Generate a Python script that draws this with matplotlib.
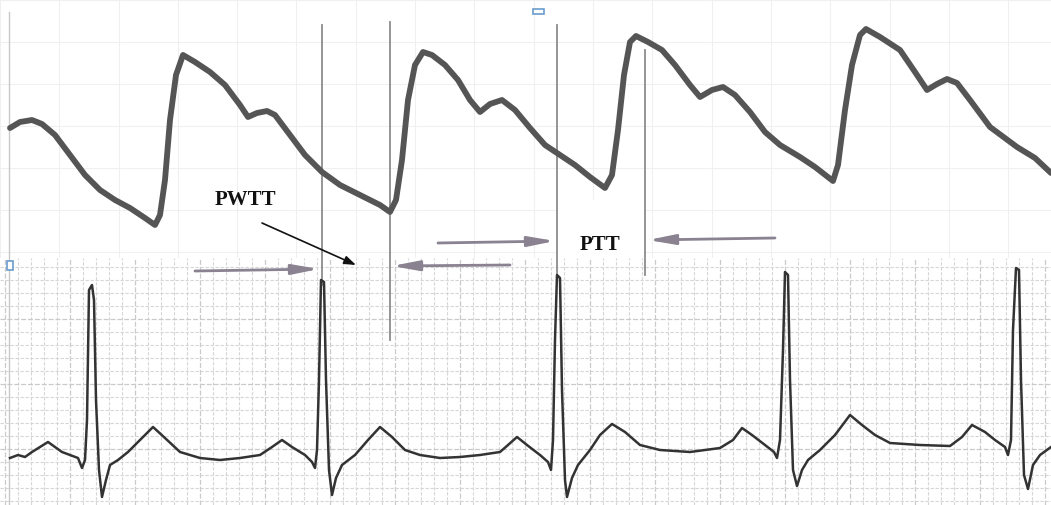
import matplotlib
matplotlib.use("Agg")
import matplotlib.pyplot as plt
from matplotlib.ticker import MultipleLocator
from matplotlib.patches import Rectangle

W, H = 1051, 505

# ---- PPG (pulse wave) trace (x px, y px from top) ----
ppg_x = [10, 20, 32, 42, 55, 70, 85, 100, 115, 130, 145, 155, 160, 165, 170, 176, 183,
         195, 210, 225, 240, 248, 257, 267, 275, 290, 305, 322, 340, 360, 380, 390,
         396, 402, 408, 415, 423, 432, 445, 458, 470, 480, 490, 502, 515, 530, 545,
         560, 575, 590, 605, 612, 618, 624, 630, 636, 648, 662, 675, 690, 700, 712,
         723, 735, 750, 765, 780, 800, 815, 833, 838, 845, 852, 860, 866, 880, 900,
         915, 927, 937, 947, 957, 970, 990, 1017, 1035, 1051]
ppg_y = [128, 122, 120, 124, 135, 155, 175, 190, 200, 208, 218, 225, 215, 180, 120, 75, 55,
         62, 72, 85, 105, 117, 113, 111, 115, 135, 155, 172, 185, 195, 205, 212,
         200, 160, 100, 65, 52, 55, 65, 80, 100, 112, 104, 100, 110, 128, 145,
         155, 165, 177, 188, 175, 130, 75, 42, 36, 42, 50, 65, 85, 97, 90,
         87, 95, 112, 132, 145, 157, 167, 181, 165, 110, 65, 35, 29, 37, 50,
         72, 90, 84, 79, 83, 100, 127, 147, 158, 173]

# ---- ECG trace ----
ecg_x = [10, 18, 25, 32, 40, 48, 55, 62, 70, 78, 82, 85, 87, 89, 92, 94, 96, 99, 102, 106,
         110, 118, 128, 140, 153, 165, 180, 200, 220, 240, 260, 272, 282, 292, 305, 312,
         315, 317, 319, 321, 324, 326, 329, 332, 336, 342, 355, 368, 380, 392, 405, 420,
         440, 460, 480, 500, 508, 517, 527, 540, 548, 551, 553, 555, 557, 560, 562, 565,
         567, 572, 578, 590, 600, 612, 625, 640, 660, 690, 720, 733, 742, 752, 765, 774,
         777, 780, 783, 785, 788, 790, 793, 797, 802, 808, 820, 835, 850, 862, 875, 890,
         920, 950, 962, 972, 985, 995, 1005, 1008, 1011, 1013, 1016, 1019, 1021, 1024,
         1028, 1033, 1040, 1051]
ecg_y = [458, 455, 457, 452, 447, 442, 447, 452, 455, 458, 468, 460, 420, 290, 285, 300, 400,
         470, 497, 480, 465, 460, 452, 440, 427, 438, 452, 458, 460, 458, 455, 447, 440,
         447, 455, 462, 468, 450, 380, 280, 282, 380, 470, 495, 478, 465, 455, 440, 427,
         437, 450, 455, 458, 457, 455, 452, 445, 437, 445, 455, 462, 470, 440, 340, 275,
         278, 390, 480, 497, 478, 465, 450, 435, 424, 432, 445, 450, 452, 448, 440, 428,
         435, 445, 452, 458, 440, 350, 272, 275, 380, 470, 486, 470, 460, 450, 435, 415,
         425, 435, 443, 445, 446, 437, 425, 432, 440, 447, 455, 440, 330, 268, 270, 380,
         475, 489, 465, 455, 447]

# ---- marker lines and annotations ----
vline_x = [322, 390, 557, 645]
vline_top = [25, 22, 25, 50]
vline_bottom = [285, 340, 278, 275]

gray_arrows = [  # (x_start, y_start, x_end, y_end)
    (195, 271, 319, 269),
    (510, 265, 392, 266),
    (438, 243, 555, 241),
    (775, 238, 648, 240),
]
labels = ["PWTT", "PTT"]
label_x = [245, 600]
label_y = [200, 245]

fig = plt.figure(figsize=(W / 100, H / 100), dpi=100)
fig.patch.set_facecolor("white")

grid_split = 258

# top (faint) grid
ax_top = fig.add_axes([0, (H - grid_split) / H, 1, grid_split / H])
ax_top.set_xlim(0, W)
ax_top.set_ylim(grid_split, 0)
ax_top.xaxis.set_major_locator(MultipleLocator(59.3))
ax_top.yaxis.set_major_locator(MultipleLocator(42))
ax_top.grid(True, color="#f0f0f0", lw=0.8)
ax_top.tick_params(length=0, labelbottom=False, labelleft=False)
for s in ax_top.spines.values():
    s.set_visible(False)

# bottom (dense ECG paper) grid
ax_bot = fig.add_axes([0, 0, 1, (H - grid_split) / H])
ax_bot.set_xlim(-5, W - 5)
ax_bot.set_ylim(H - grid_split + 4, 4)
ax_bot.xaxis.set_major_locator(MultipleLocator(65))
ax_bot.xaxis.set_minor_locator(MultipleLocator(13))
ax_bot.yaxis.set_major_locator(MultipleLocator(65))
ax_bot.yaxis.set_minor_locator(MultipleLocator(13))
ax_bot.grid(True, which="major", color="#cacaca", lw=0.9, ls=(0, (4, 1.5)))
ax_bot.grid(True, which="minor", color="#d6d6d6", lw=0.8, ls=(0, (3, 1.5)))
ax_bot.tick_params(which="both", length=0, labelbottom=False, labelleft=False)
for s in ax_bot.spines.values():
    s.set_visible(False)

# main overlay in pixel coordinates
ax = fig.add_axes([0, 0, 1, 1])
ax.set_xlim(0, W)
ax.set_ylim(H, 0)
ax.set_facecolor("none")
ax.axis("off")

# white box behind PTT label
ax.add_patch(Rectangle((558, 200), 86, 58, facecolor="white", edgecolor="none", zorder=1))

# left border line of the scan
ax.plot([9, 9], [12, 505], color="#c8c8c8", lw=1.0, zorder=1)

for x, y0, y1 in zip(vline_x, vline_top, vline_bottom):
    ax.plot([x, x], [y0, y1], color="#8c8c8c", lw=1.3, zorder=2)

ax.plot(ppg_x, ppg_y, color="#555555", lw=4.2, solid_joinstyle="round",
        solid_capstyle="round", zorder=3)
ax.plot(ecg_x, ecg_y, color="#333333", lw=1.8, zorder=3)

for x0, y0, x1, y1 in gray_arrows:
    ax.annotate("", xy=(x1, y1), xytext=(x0, y0),
                arrowprops=dict(arrowstyle="-|>,head_length=1.6,head_width=0.3",
                                color="#8a8290", lw=2.0, shrinkA=0, shrinkB=0), zorder=4)

ax.annotate("", xy=(356, 265), xytext=(262, 223),
            arrowprops=dict(arrowstyle="-|>,head_length=0.7,head_width=0.25",
                            color="#111111", lw=1.2, shrinkA=0, shrinkB=0), zorder=4)

for t, x, y in zip(labels, label_x, label_y):
    ax.text(x, y, t, family=["Liberation Serif", "DejaVu Serif"], weight="bold",
            fontsize=15, color="#111111", ha="center", va="center", zorder=5)

# little blue selection handles from the scan
ax.add_patch(Rectangle((7, 261), 6, 9, facecolor="white", edgecolor="#6a9ccc", lw=1.2, zorder=5))
ax.add_patch(Rectangle((533, 9), 11, 5, facecolor="white", edgecolor="#6a9ccc", lw=1.2, zorder=5))

fig.savefig("out.png", dpi=100, facecolor="white")
